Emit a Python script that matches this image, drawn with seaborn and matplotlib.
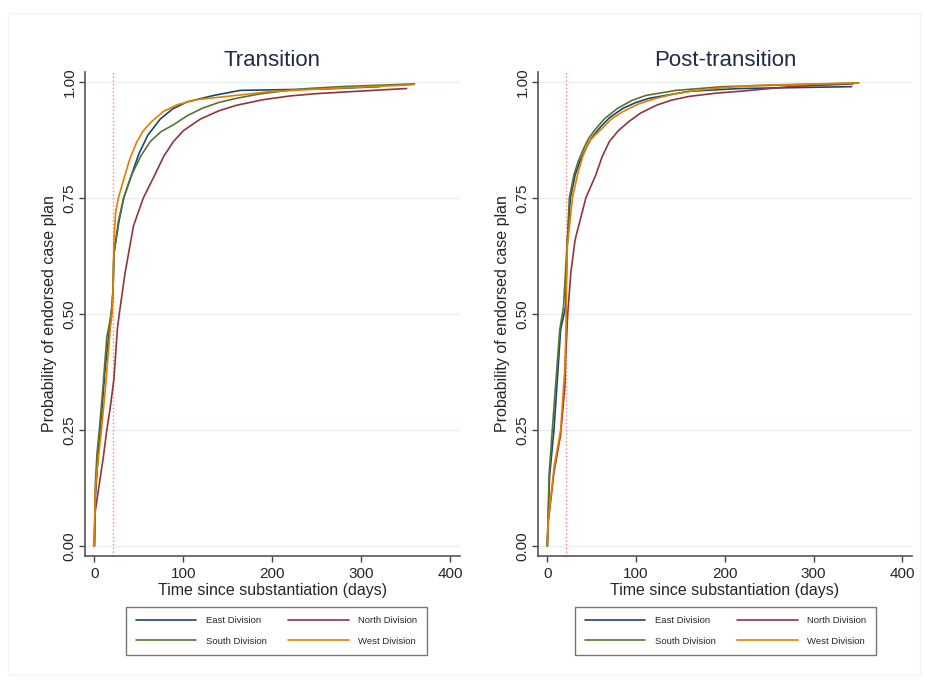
import seaborn as sns
import matplotlib.pyplot as plt
from matplotlib.patches import Rectangle
import pandas as pd

# cumulative probability of endorsed case plan
divisions = ['East Division', 'North Division', 'South Division', 'West Division']
colores = ['#1a476f', '#90353b', '#55752f', '#e37e00']

# Transition
t_tr_east = [0, 1, 5, 8, 12, 16, 20, 21, 22, 27.7, 33, 40, 50, 60, 74, 88, 104, 134, 164, 257, 321]
p_tr_east = [0, 0.10, 0.22, 0.28, 0.38, 0.45, 0.52, 0.55, 0.63, 0.70, 0.75, 0.79, 0.845, 0.885, 0.92, 0.942, 0.957, 0.971, 0.982, 0.985, 0.99]
t_tr_north = [0, 1, 3, 10, 14, 18, 22, 26, 28, 34.5, 44, 55, 68, 78, 89, 100, 119, 140, 160, 190, 220, 250, 295, 351]
p_tr_north = [0, 0.074, 0.10, 0.19, 0.25, 0.30, 0.36, 0.47, 0.50, 0.588, 0.69, 0.75, 0.80, 0.84, 0.872, 0.895, 0.92, 0.938, 0.95, 0.962, 0.97, 0.975, 0.98, 0.986]
t_tr_south = [0, 1, 3, 5.6, 10, 14, 19, 21, 22, 27, 33, 42, 52, 63, 75, 89, 105, 122, 140, 160, 185, 209, 240, 276, 360]
p_tr_south = [0, 0.13, 0.20, 0.25, 0.35, 0.45, 0.50, 0.55, 0.63, 0.70, 0.75, 0.80, 0.84, 0.872, 0.893, 0.908, 0.928, 0.944, 0.956, 0.965, 0.974, 0.98, 0.986, 0.99, 0.996]
t_tr_west = [0, 1, 4, 8, 12, 18, 20, 21, 22, 24, 27, 34.5, 40, 48, 55, 64.5, 78, 93, 115, 149, 201, 276, 358]
p_tr_west = [0, 0.12, 0.18, 0.25, 0.33, 0.47, 0.50, 0.55, 0.66, 0.72, 0.75, 0.80, 0.835, 0.872, 0.895, 0.915, 0.937, 0.951, 0.962, 0.969, 0.98, 0.987, 0.994]

# Post-transition
t_po_east = [0, 1, 2.5, 7.5, 15, 20.5, 22.6, 26, 31.4, 37, 43.4, 50, 58.5, 70, 85, 100, 115, 160, 217, 343]
p_po_east = [0, 0.07, 0.15, 0.25, 0.466, 0.515, 0.66, 0.75, 0.80, 0.83, 0.857, 0.88, 0.90, 0.923, 0.943, 0.956, 0.965, 0.98, 0.986, 0.99]
t_po_north = [0, 1, 7.6, 15, 19.6, 21, 23, 26.5, 31.3, 43.4, 54.7, 62, 70, 80, 92, 105, 123, 140, 160, 190, 217, 273, 345]
p_po_north = [0, 0.05, 0.16, 0.24, 0.34, 0.42, 0.50, 0.589, 0.66, 0.75, 0.80, 0.84, 0.872, 0.895, 0.915, 0.933, 0.95, 0.961, 0.969, 0.976, 0.98, 0.99, 0.996]
t_po_south = [0, 1, 2, 5.6, 14, 18.2, 22.6, 24.8, 30, 35, 41, 47, 55, 65, 79, 95, 111, 145, 198, 351]
p_po_south = [0, 0.063, 0.154, 0.25, 0.466, 0.515, 0.66, 0.75, 0.80, 0.83, 0.857, 0.88, 0.90, 0.922, 0.943, 0.96, 0.971, 0.982, 0.99, 0.998]
t_po_west = [0, 1, 7.6, 15, 19.6, 21, 21.5, 22.6, 28.3, 34, 40, 47, 55, 62, 72, 85, 103, 123, 145, 168, 200, 236, 350]
p_po_west = [0, 0.056, 0.17, 0.25, 0.38, 0.466, 0.55, 0.645, 0.75, 0.80, 0.84, 0.872, 0.888, 0.90, 0.92, 0.936, 0.953, 0.965, 0.975, 0.982, 0.988, 0.993, 0.998]

x_ticks = [0, 100, 200, 300, 400]
y_ticks = [0, 0.25, 0.5, 0.75, 1.0]
y_ticklabels = ['0.00', '0.25', '0.50', '0.75', '1.00']
corte = 21


def armar_df(tiempos, probs):
    filas = []
    for div, t, p in zip(divisions, tiempos, probs):
        filas.append(pd.DataFrame({'t': t, 'p': p, 'division': div}))
    return pd.concat(filas, ignore_index=True)


df_tr = armar_df([t_tr_east, t_tr_north, t_tr_south, t_tr_west],
                 [p_tr_east, p_tr_north, p_tr_south, p_tr_west])
df_po = armar_df([t_po_east, t_po_north, t_po_south, t_po_west],
                 [p_po_east, p_po_north, p_po_south, p_po_west])

sns.set_style('white')
plt.rcParams['font.family'] = ['Liberation Sans', 'DejaVu Sans']

fig = plt.figure(figsize=(9.28, 6.83), dpi=100)
fig.patches.append(Rectangle((8 / 928, 8 / 683), 912 / 928, 662 / 683, transform=fig.transFigure,
                             fill=False, edgecolor='#f4f4f4', lw=1))

ax1 = fig.add_axes([85 / 928, 1 - 556 / 683, 375 / 928, 484 / 683])
ax2 = fig.add_axes([538 / 928, 1 - 556 / 683, 374 / 928, 484 / 683])

for ax, df, titulo, anc in [(ax1, df_tr, 'Transition', 0.511), (ax2, df_po, 'Post-transition', 0.501)]:
    for yv in y_ticks:
        ax.axhline(yv, color='#e8f0f1', lw=1, zorder=0)
    sns.lineplot(data=df, x='t', y='p', hue='division', hue_order=divisions,
                 palette=colores, estimator=None, lw=1.2, ax=ax)
    ax.axvline(corte, color='#ff8080', ls=':', lw=1, zorder=1)

    ax.set_xlim(-10.5, 411)
    ax.set_ylim(-0.0216, 1.0216)
    ax.set_xticks(x_ticks)
    ax.set_yticks(y_ticks)
    ax.set_yticklabels(y_ticklabels, rotation=90, va='center')
    ax.tick_params(axis='both', direction='out', length=4, width=1, color='#444444',
                   labelsize=11, pad=2, left=True, bottom=True)
    ax.tick_params(axis='x', pad=4)
    for lado in ['top', 'right']:
        ax.spines[lado].set_visible(False)
    for lado in ['left', 'bottom']:
        ax.spines[lado].set_color('#555555')
        ax.spines[lado].set_linewidth(1.2)

    ax.set_title(titulo, fontsize=16, color='#1e2b4a', pad=4)
    ax.set_xlabel('Time since substantiation (days)', fontsize=11.5, labelpad=1)
    ax.set_ylabel('Probability of endorsed case plan', fontsize=11.5, labelpad=4)

    # legend filled row by row: East, North / South, West
    handles, labels = ax.get_legend_handles_labels()
    orden = [0, 2, 1, 3]
    leg = ax.legend([handles[i] for i in orden], [labels[i] for i in orden],
                    loc='upper center', bbox_to_anchor=(anc, -0.105),
                    ncol=2, fontsize=6.8, handlelength=6.4, handletextpad=1.0,
                    columnspacing=2.3, labelspacing=1.2, borderpad=1.0,
                    frameon=True, fancybox=False, borderaxespad=0)
    leg.get_frame().set_edgecolor('#555555')
    leg.get_frame().set_linewidth(1)
    for linea in leg.get_lines():
        linea.set_linewidth(1.2)

fig.savefig('out.png', dpi=100, facecolor='white')
